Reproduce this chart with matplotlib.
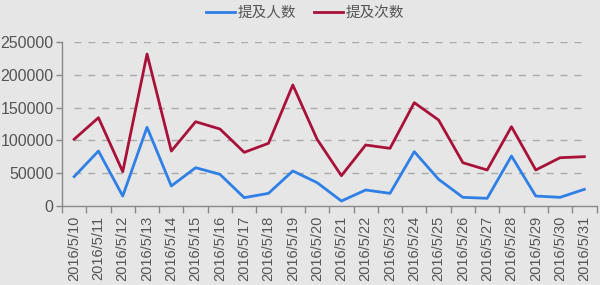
import matplotlib
matplotlib.use("Agg")
import matplotlib.pyplot as plt
import numpy as np

dates = [f"2016/5/{d}" for d in range(10, 32)]
people = [44700, 83800, 15200, 120000, 30500, 58400, 48300, 12700, 19300, 53400,
          35600, 7600, 24400, 19300, 82800, 40700, 13200, 11700, 76200, 15200, 13200, 25400]
mentions = [101700, 134600, 52300, 231700, 83800, 128500, 117400, 81800, 95600, 184500,
            101700, 46200, 93000, 87900, 157500, 131100, 66000, 54900, 120900, 54900, 73600, 75200]
yticks = [0, 50000, 100000, 150000, 200000, 250000]
series_names = ["提及人数", "提及次数"]

plt.rcParams['font.family'] = ['Liberation Sans', 'Noto Sans CJK SC', 'DejaVu Sans']
bg = "#e6e6e6"
txt = "#555555"
fig = plt.figure(figsize=(6, 2.85), dpi=100, facecolor=bg)
ax = fig.add_axes([62/600, 1-206/285, (596.5-62)/600, (206-42)/285], facecolor=bg)

x = np.arange(len(dates))
ax.hlines(yticks[1:], 0, len(dates)-1, colors="#aaaaaa", linewidth=1, linestyles=(0, (5, 5)), zorder=1)
l1, = ax.plot(x, people, color="#2e7fe6", linewidth=2, label=series_names[0], zorder=3)
l2, = ax.plot(x, mentions, color="#a8113a", linewidth=2, label=series_names[1], zorder=3)

ax.set_xlim(-0.5, len(dates)-0.5)
ax.set_ylim(0, 250000)
ax.set_yticks(yticks)
ax.set_yticklabels([str(v) for v in yticks], fontsize=11.5, color=txt)
ax.set_xticks(x)
ax.set_xticklabels(dates, rotation=90, fontsize=10.5, color=txt)
ax.set_xticks(np.arange(-0.5, len(dates)), minor=True)
ax.tick_params(axis='x', which='major', length=0, pad=7)
ax.tick_params(axis='x', which='minor', length=5, color="#888888", width=1)
ax.tick_params(axis='y', length=4, color="#888888", width=1, pad=2)
for s in ["top", "right"]:
    ax.spines[s].set_visible(False)
for s in ["left", "bottom"]:
    ax.spines[s].set_color("#888888")
    ax.spines[s].set_linewidth(1)

fig.legend(handles=[l1, l2], loc="center", bbox_to_anchor=(305/600, 1-13/285), ncol=2,
           frameon=False, fontsize=10.5, handlelength=2, handletextpad=0.2, columnspacing=1.2,
           labelcolor=txt, borderaxespad=0)

fig.savefig("out.png", dpi=100, facecolor=bg)
